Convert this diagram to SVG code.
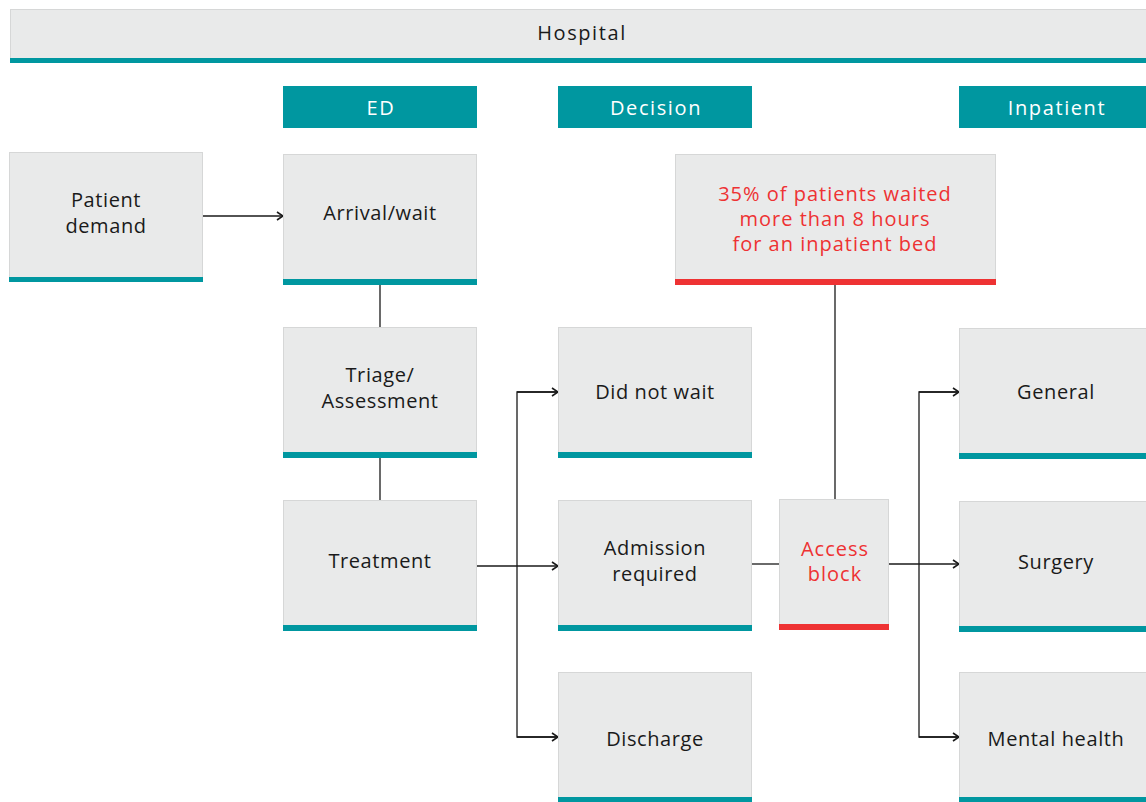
<svg xmlns="http://www.w3.org/2000/svg" width="1146" height="802" viewBox="0 0 1146 802">
<defs>
<style>
.box{fill:#e9eaea;stroke:#d6d7d7;stroke-width:1}
.tb{fill:#0097a0}
.rb{fill:#ee3233}
.hd{fill:#0097a0}
text{font-family:"Open Sans","Noto Sans",sans-serif;font-size:20px;text-anchor:middle;letter-spacing:0.6px}
.t{fill:#1a1a1a}
.r{fill:#ee3233;letter-spacing:1px}
.w{fill:#ffffff;letter-spacing:1.6px}
.h{letter-spacing:1.6px}
.c{fill:none;stroke:#1a1a1a;stroke-width:1.3}
</style>
<marker id="ah" viewBox="0 0 10 10" refX="9" refY="5" markerWidth="10" markerHeight="10" markerUnits="userSpaceOnUse" orient="auto">
<path d="M3,1 L9,5 L3,9" fill="none" stroke="#1a1a1a" stroke-width="1.6"/>
</marker>
</defs>
<rect width="1146" height="802" fill="#ffffff"/>

<g id="hospital">
<rect class="box" x="10.5" y="9.5" width="1140" height="49"/>
<rect class="tb" x="10" y="58" width="1136" height="5"/>
<text class="t h" x="582" y="40">Hospital</text>
</g>

<g id="hdr-ed"><rect class="hd" x="283" y="86" width="194" height="42"/><text class="w" x="381" y="115">ED</text></g>
<g id="hdr-decision"><rect class="hd" x="558" y="86" width="194" height="42"/><text class="w" x="656" y="115">Decision</text></g>
<g id="hdr-inpatient"><rect class="hd" x="959" y="86" width="194" height="42"/><text class="w" x="1057" y="115">Inpatient</text></g>

<g id="connectors">
<line class="c" x1="203" y1="216" x2="283" y2="216" marker-end="url(#ah)"/>
<line class="c" x1="380" y1="285" x2="380" y2="327"/>
<line class="c" x1="380" y1="458" x2="380" y2="500"/>
<line class="c" x1="477" y1="566" x2="558" y2="566" marker-end="url(#ah)"/>
<polyline class="c" points="558,392 517,392 517,737 558,737"/>
<line class="c" x1="517" y1="392" x2="558" y2="392" marker-end="url(#ah)"/>
<line class="c" x1="517" y1="737" x2="558" y2="737" marker-end="url(#ah)"/>
<line class="c" x1="752" y1="564" x2="779" y2="564"/>
<line class="c" x1="835" y1="285" x2="835" y2="499"/>
<line class="c" x1="889" y1="564" x2="959" y2="564" marker-end="url(#ah)"/>
<polyline class="c" points="959,392 919,392 919,737 959,737"/>
<line class="c" x1="919" y1="392" x2="959" y2="392" marker-end="url(#ah)"/>
<line class="c" x1="919" y1="737" x2="959" y2="737" marker-end="url(#ah)"/>
</g>

<g id="patient-demand">
<rect class="box" x="9.5" y="152.5" width="193" height="125"/>
<rect class="tb" x="9" y="277" width="194" height="5"/>
<text class="t" x="106" y="207">Patient</text>
<text class="t" x="106" y="233">demand</text>
</g>

<g id="arrival">
<rect class="box" x="283.5" y="154.5" width="193" height="125"/>
<rect class="tb" x="283" y="279" width="194" height="6"/>
<text class="t" x="380" y="220">Arrival/wait</text>
</g>

<g id="triage">
<rect class="box" x="283.5" y="327.5" width="193" height="125"/>
<rect class="tb" x="283" y="452" width="194" height="6"/>
<text class="t" x="380" y="382">Triage/</text>
<text class="t" x="380" y="408">Assessment</text>
</g>

<g id="treatment">
<rect class="box" x="283.5" y="500.5" width="193" height="125"/>
<rect class="tb" x="283" y="625" width="194" height="6"/>
<text class="t" x="380" y="568">Treatment</text>
</g>

<g id="did-not-wait">
<rect class="box" x="558.5" y="327.5" width="193" height="125"/>
<rect class="tb" x="558" y="452" width="194" height="6"/>
<text class="t" x="655" y="399">Did not wait</text>
</g>

<g id="admission">
<rect class="box" x="558.5" y="500.5" width="193" height="125"/>
<rect class="tb" x="558" y="625" width="194" height="6"/>
<text class="t" x="655" y="555">Admission</text>
<text class="t" x="655" y="581">required</text>
</g>

<g id="discharge">
<rect class="box" x="558.5" y="672.5" width="193" height="125"/>
<rect class="tb" x="558" y="797" width="194" height="6"/>
<text class="t" x="655" y="746">Discharge</text>
</g>

<g id="wait-stat">
<rect class="box" x="675.5" y="154.5" width="320" height="125"/>
<rect class="rb" x="675" y="279" width="321" height="6"/>
<text class="r" x="835" y="201">35% of patients waited</text>
<text class="r" x="835" y="226">more than 8 hours</text>
<text class="r" x="835" y="251">for an inpatient bed</text>
</g>

<g id="access-block">
<rect class="box" x="779.5" y="499.5" width="109" height="125"/>
<rect class="rb" x="779" y="624" width="110" height="6"/>
<text class="r" x="835" y="556">Access</text>
<text class="r" x="835" y="581">block</text>
</g>

<g id="general">
<rect class="box" x="959.5" y="328.5" width="193" height="125"/>
<rect class="tb" x="959" y="453" width="194" height="6"/>
<text class="t" x="1056" y="399">General</text>
</g>

<g id="surgery">
<rect class="box" x="959.5" y="501.5" width="193" height="125"/>
<rect class="tb" x="959" y="626" width="194" height="6"/>
<text class="t" x="1056" y="569">Surgery</text>
</g>

<g id="mental-health">
<rect class="box" x="959.5" y="672.5" width="193" height="125"/>
<rect class="tb" x="959" y="797" width="194" height="6"/>
<text class="t" x="1056" y="746">Mental health</text>
</g>
</svg>
